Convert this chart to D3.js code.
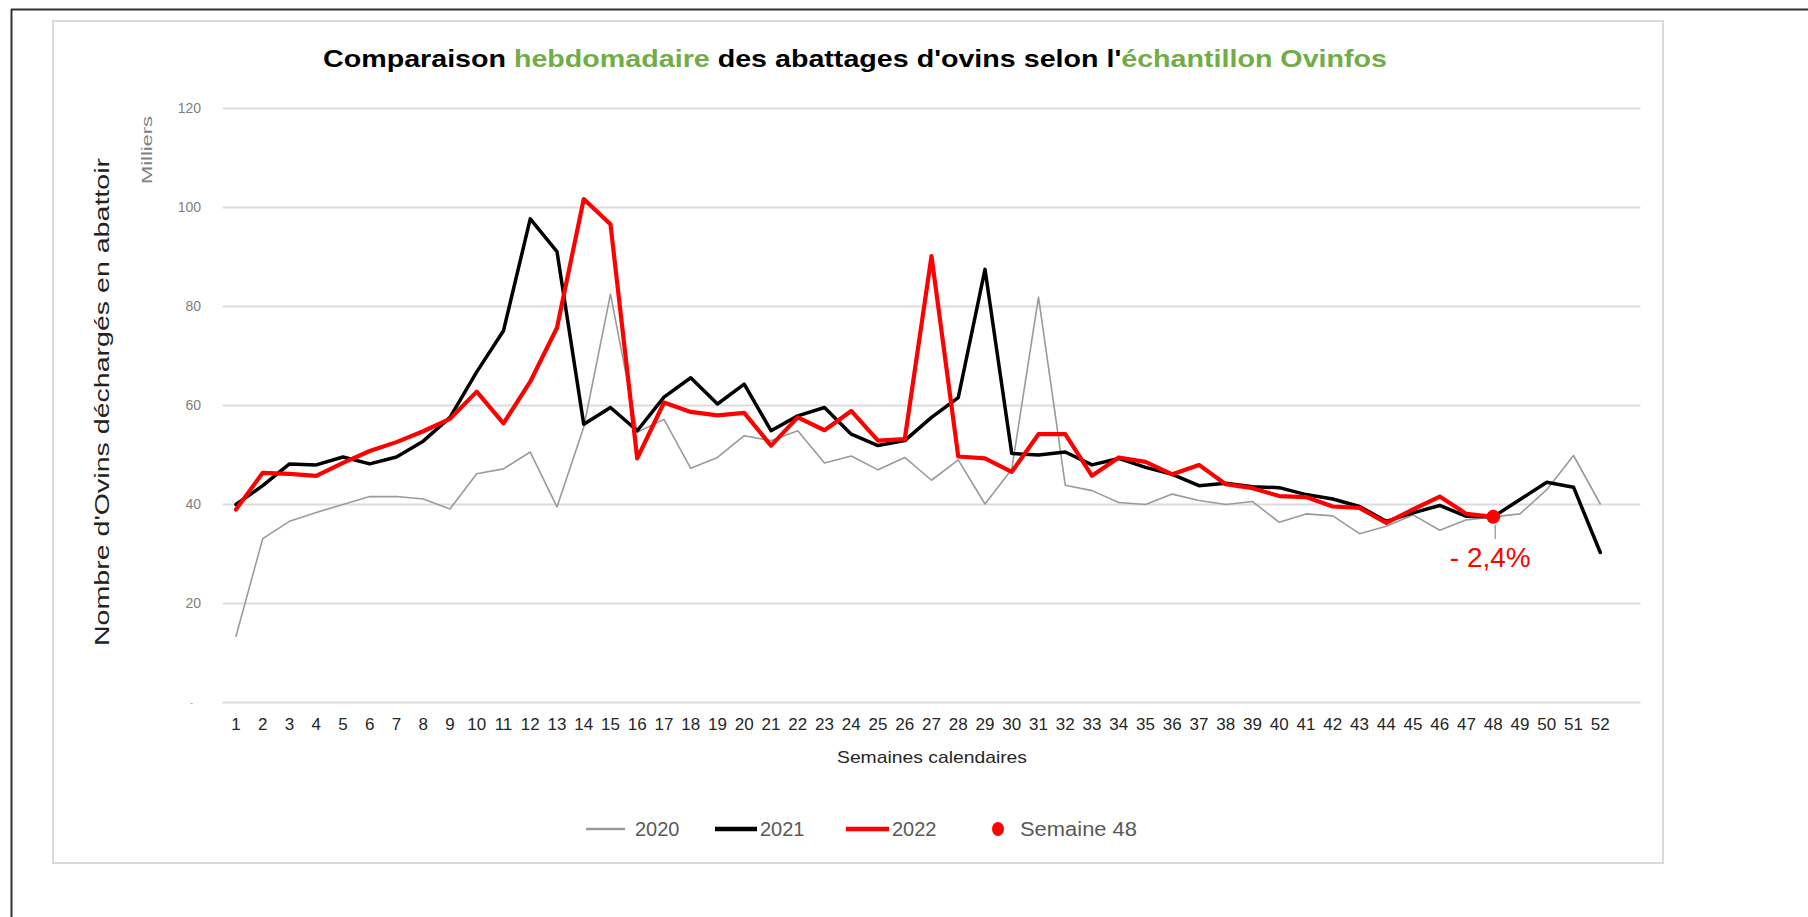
<!DOCTYPE html>
<html><head><meta charset="utf-8">
<script src="https://cdn.jsdelivr.net/npm/d3@7"></script>
<style>
body{margin:0;background:#fff;}
svg{display:block;font-family:"Liberation Sans",Arial,sans-serif;}
</style>
</head><body>
<svg id="c" width="1808" height="917"></svg>
<script>
// ---- data (milliers de têtes) ----
const weeks = [1,2,3,4,5,6,7,8,9,10,11,12,13,14,15,16,17,18,19,20,21,22,23,24,25,26,
               27,28,29,30,31,32,33,34,35,36,37,38,39,40,41,42,43,44,45,46,47,48,49,50,51,52];
const s2020 = [13.3,33.0,36.5,38.3,39.9,41.5,41.5,41.0,39.0,46.1,47.1,50.5,39.4,
               55.5,82.4,54.5,57.1,47.2,49.4,53.8,52.8,54.8,48.3,49.7,46.9,49.4,
               44.8,48.9,40.0,47.0,81.8,43.8,42.7,40.3,39.9,42.0,40.7,39.9,40.5,
               36.3,38.0,37.6,34.0,35.5,37.8,34.7,36.8,37.4,38.0,42.9,49.8,40.0];
const s2021 = [39.9,43.7,48.1,47.9,49.5,48.1,49.5,52.7,57.5,66.7,75.0,97.6,91.0,
               56.1,59.5,54.8,61.6,65.5,60.2,64.2,54.8,57.8,59.5,54.1,51.8,52.8,
               57.5,61.5,87.4,50.2,49.9,50.5,47.9,49.2,47.4,46.0,43.7,44.2,43.5,
               43.3,41.9,41.0,39.5,36.5,38.2,39.7,37.5,37.4,40.9,44.4,43.4,30.2];
const s2022 = [38.9,46.3,46.1,45.7,48.3,50.7,52.5,54.7,57.2,62.7,56.3,64.7,75.6,
               101.6,96.5,49.2,60.5,58.6,57.9,58.4,51.8,57.5,54.9,58.8,52.8,53.1,
               90.1,49.6,49.2,46.5,54.1,54.1,45.7,49.4,48.5,46.0,47.9,44.0,43.2,
               41.6,41.4,39.5,39.2,36.2,38.9,41.5,38.0,37.4];
const seriesNames = ["2020","2021","2022"];
const yTicks = [0,20,40,60,80,100,120];
const highlightWeek = 48;
const highlightLabel = "- 2,4%";
const highlightName = "Semaine 48";

// ---- styles ----
const colors = {"2020":"#9a9a9a","2021":"#000000","2022":"#ff0000"};
const widths = {"2020":1.6,"2021":3.5,"2022":4.2};
const green = "#70AD47";

const svg = d3.select("#c");

// outer frame lines
svg.append("line").attr("x1",11).attr("x2",1808).attr("y1",9.5).attr("y2",9.5).attr("stroke","#333").attr("stroke-width",2);
svg.append("line").attr("x1",11.5).attr("x2",11.5).attr("y1",9).attr("y2",917).attr("stroke","#333").attr("stroke-width",2);

// chart box
svg.append("rect").attr("x",53).attr("y",21).attr("width",1610).attr("height",842)
  .attr("fill","#fff").attr("stroke","#dadada").attr("stroke-width",2);

// title
const title = svg.append("text").attr("x",855).attr("y",67).attr("text-anchor","middle")
  .attr("font-size",24).attr("font-weight","bold").attr("textLength",1064).attr("lengthAdjust","spacingAndGlyphs");
[["Comparaison ","#000"],["hebdomadaire",green],[" des abattages d'ovins selon l'","#000"],["échantillon Ovinfos",green]]
  .forEach(([t,c])=>title.append("tspan").attr("fill",c).text(t));

// scales
const x = d3.scaleBand().domain(weeks.concat(["blank"])).range([222.6,1640.4]).paddingInner(0).paddingOuter(0);
const cx = w => x(w) + x.bandwidth()/2;
const y = d3.scaleLinear().domain([0,120]).range([702,108]);

// gridlines
const grid = svg.append("g").attr("transform","translate(1640.4,0)")
  .call(d3.axisLeft(y).tickValues(yTicks).tickSize(1640.4-222.6).tickFormat(""));
grid.select(".domain").remove();
grid.selectAll("line").attr("stroke","#dcdcdc").attr("stroke-width",2);

// y axis labels
const yAx = svg.append("g").attr("transform","translate(201,0)")
  .call(d3.axisLeft(y).tickValues(yTicks).tickSize(0).tickPadding(0)
        .tickFormat(d => d===0 ? "-" : d));
yAx.select(".domain").remove();
yAx.selectAll("text").attr("font-size",14).attr("fill","#808080").attr("font-family","Liberation Sans, Arial, sans-serif");
yAx.selectAll("text").filter(d=>d===0).attr("font-size",8).attr("dx",-8);

// Milliers
svg.append("text").attr("transform","translate(152,150) rotate(-90)").attr("text-anchor","middle")
  .attr("font-size",14).attr("fill","#808080").attr("textLength",68).attr("lengthAdjust","spacingAndGlyphs").text("Milliers");

// y axis title
svg.append("text").attr("transform","translate(109,402) rotate(-90)").attr("text-anchor","middle")
  .attr("font-size",21).attr("fill","#222").attr("textLength",488).attr("lengthAdjust","spacingAndGlyphs")
  .text("Nombre d'Ovins déchargés en abattoir");

// x axis
const xAx = svg.append("g").attr("transform","translate(0,718)")
  .call(d3.axisBottom(x).tickValues(weeks).tickSize(0).tickPadding(0));
xAx.select(".domain").remove();
xAx.selectAll("text").attr("font-size",17).attr("fill","#262626").attr("font-family","Liberation Sans, Arial, sans-serif");

svg.append("text").attr("x",932).attr("y",763).attr("text-anchor","middle")
  .attr("font-size",17).attr("fill","#262626").attr("textLength",190).attr("lengthAdjust","spacingAndGlyphs")
  .text("Semaines calendaires");

// lines
const line = d3.line().x((d,i)=>cx(weeks[i])).y(d=>y(d));
const seriesData = {"2020":s2020,"2021":s2021,"2022":s2022};
seriesNames.forEach(n=>{
  svg.append("path").datum(seriesData[n]).attr("d",line).attr("fill","none")
    .attr("stroke",colors[n]).attr("stroke-width",widths[n]).attr("stroke-linejoin","round").attr("stroke-linecap","round");
});

// highlight point
const hi = weeks.indexOf(highlightWeek);
const hv = s2022[hi];
svg.append("line").attr("x1",cx(highlightWeek)+2).attr("x2",cx(highlightWeek)+2)
  .attr("y1",y(hv)+8).attr("y2",y(hv)+22).attr("stroke","#a6a6a6").attr("stroke-width",1.5);
svg.append("circle").attr("cx",cx(highlightWeek)).attr("cy",y(hv)).attr("r",7).attr("fill","#ff0000");
svg.append("text").attr("x",cx(highlightWeek)-3).attr("y",567).attr("text-anchor","middle")
  .attr("font-size",28).attr("fill","#ff0000").text(highlightLabel);

// legend
const lg = svg.append("g").attr("font-size",20).attr("fill","#595959");
const legendItems = [
  {n:"2020", x1:586, x2:625, tx:635},
  {n:"2021", x1:715, x2:757, tx:760},
  {n:"2022", x1:846, x2:889, tx:892}
];
legendItems.forEach(it=>{
  lg.append("line").attr("x1",it.x1).attr("x2",it.x2).attr("y1",829).attr("y2",829)
    .attr("stroke",colors[it.n]).attr("stroke-width",it.n==="2020"?2.5:4.5);
  lg.append("text").attr("x",it.tx).attr("y",836).text(it.n);
});
lg.append("ellipse").attr("cx",998).attr("cy",829).attr("rx",6).attr("ry",7).attr("fill","#ff0000");
lg.append("text").attr("x",1020).attr("y",836).attr("textLength",117).attr("lengthAdjust","spacingAndGlyphs").text(highlightName);
</script>
</body></html>
